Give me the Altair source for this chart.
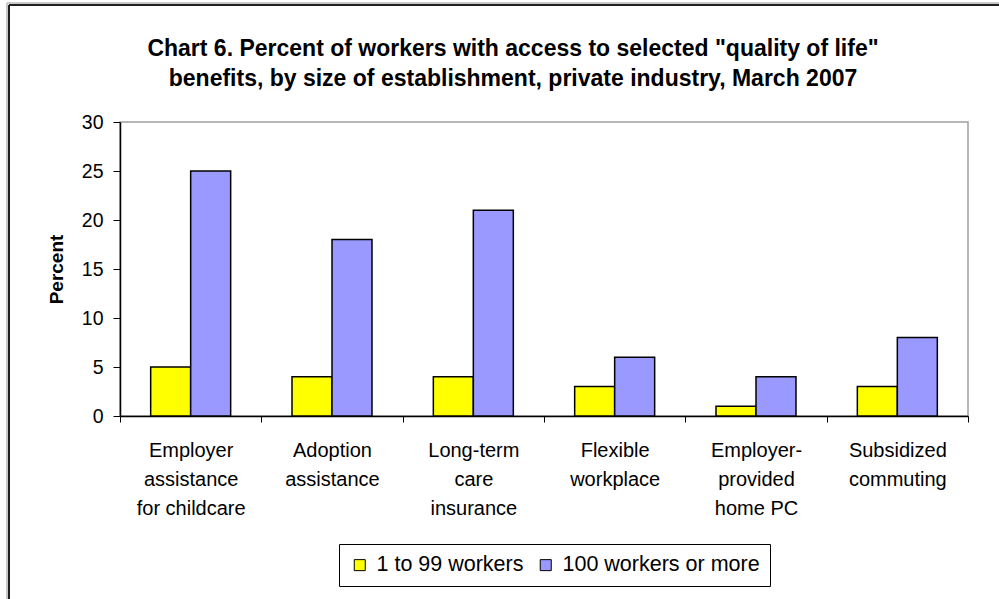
import altair as alt
import pandas as pd

categories = [
    "Employer\nassistance\nfor childcare",
    "Adoption\nassistance",
    "Long-term\ncare\ninsurance",
    "Flexible\nworkplace",
    "Employer-\nprovided\nhome PC",
    "Subsidized\ncommuting",
]
small_estab = [5, 4, 4, 3, 1, 3]
large_estab = [25, 18, 21, 6, 4, 8]
series = ["1 to 99 workers", "100 workers or more"]
colors = ["#FFFF00", "#9999FF"]
y_ticks = [0, 5, 10, 15, 20, 25, 30]

rows = []
for c, a, b in zip(categories, small_estab, large_estab):
    rows.append({"benefit": c, "size": series[0], "pct": a})
    rows.append({"benefit": c, "size": series[1], "pct": b})
df = pd.DataFrame(rows)

FONT = "Liberation Sans"
W, H = 848, 294

bars = alt.Chart(df).mark_bar(stroke="black", strokeWidth=1.5).encode(
    x=alt.X(
        "benefit:N",
        sort=categories,
        scale=alt.Scale(paddingInner=0, paddingOuter=0),
        axis=alt.Axis(
            title=None,
            labelAngle=0,
            labelExpr="split(datum.label, '\\n')",
            tickBand="extent",
            labelLineHeight=29,
            labelFontSize=20,
            labelPadding=18,
            labelBaseline="top",
            tickSize=6,
            tickColor="black",
            domainColor="black",
            domainWidth=1.5,
            labelColor="black",
            labelFont=FONT,
        ),
    ),
    xOffset=alt.XOffset(
        "size:N", sort=series, scale=alt.Scale(paddingInner=0, paddingOuter=0.767)
    ),
    y=alt.Y(
        "pct:Q",
        scale=alt.Scale(domain=[0, 30]),
        axis=alt.Axis(
            title="Percent",
            values=y_ticks,
            grid=False,
            tickSize=7,
            tickColor="black",
            domainColor="black",
            domainWidth=1.5,
            labelFontSize=19.5,
            labelPadding=10,
            labelColor="black",
            labelFont=FONT,
            titleFont=FONT,
            titleFontSize=19,
            titleFontWeight="bold",
            titleColor="black",
            titlePadding=15,
        ),
    ),
    fill=alt.Fill(
        "size:N",
        sort=series,
        scale=alt.Scale(domain=series, range=colors),
        legend=alt.Legend(
            title=None,
            orient="none",
            legendX=219,
            legendY=422,
            direction="horizontal",
            strokeColor="black",
            fillColor="white",
            padding=10,
            symbolType="square",
            symbolSize=121,
            symbolStrokeColor="black",
            symbolStrokeWidth=1,
            labelFontSize=21.5,
            labelFont=FONT,
            labelColor="black",
            labelOffset=6,
            labelLimit=400,
            columnPadding=11,
        ),
    ),
)

one = pd.DataFrame({"k": [0]})
frame_left_gray = alt.Chart(one).mark_rule(color="#c8c8c8", strokeWidth=2).encode(
    x=alt.value(-113), y=alt.value(-119), y2=alt.value(480)
)
frame_left_black = alt.Chart(one).mark_rule(color="#202020", strokeWidth=2).encode(
    x=alt.value(-111), y=alt.value(-117), y2=alt.value(480)
)
frame_top_gray = alt.Chart(one).mark_rule(color="#c8c8c8", strokeWidth=2).encode(
    x=alt.value(-113), x2=alt.value(880), y=alt.value(-119)
)
frame_top_black = alt.Chart(one).mark_rule(color="#202020", strokeWidth=2).encode(
    x=alt.value(-111), x2=alt.value(880), y=alt.value(-117)
)

chart = (
    alt.layer(frame_left_gray, frame_top_gray, frame_left_black, frame_top_black, bars)
    .properties(
        width=W,
        height=H,
        title=alt.TitleParams(
            text=[
                'Chart 6. Percent of workers with access to selected "quality of life"',
                "benefits, by size of establishment, private industry, March 2007",
            ],
            anchor="middle",
            frame="group",
            font=FONT,
            fontSize=23,
            fontWeight="bold",
            color="black",
            lineHeight=30,
            offset=-89,
            dx=-31,
        ),
        padding={"left": 120, "top": 122, "right": 31, "bottom": 183},
        autosize=alt.AutoSizeParams(type="none"),
        background="white",
    )
    .configure_view(stroke="#a0a0a0", strokeWidth=1.5)
)

chart.save("out.html", embed_options={"renderer": "svg", "actions": False})
